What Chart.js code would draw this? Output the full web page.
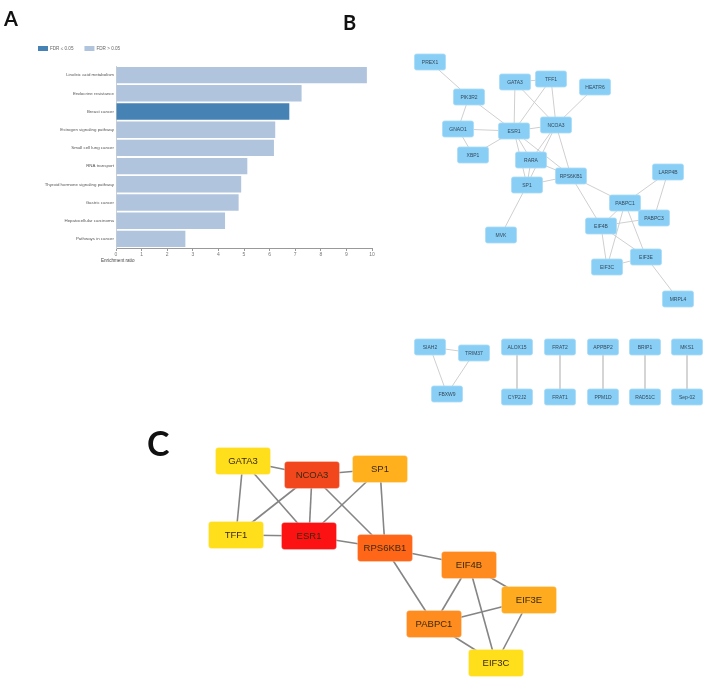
<!DOCTYPE html>
<html>
<head>
<meta charset="utf-8">
<script src="https://cdn.jsdelivr.net/npm/chart.js@4.4.1/dist/chart.umd.min.js"></script>
<style>
  body { margin: 0; background: #fff; }
  #page { position: relative; width: 706px; height: 679px; overflow: hidden; }
  canvas { position: absolute; }
  .tag { position: absolute; font-family: Lato, 'Open Sans', sans-serif; font-weight: bold; color: #111; line-height: 1; }
</style>
</head>
<body>
<div id="page">
  <canvas id="chartA" width="380" height="280" style="left:0;top:0"></canvas>
  <canvas id="chartB" width="326" height="390" style="left:380px;top:30px"></canvas>
  <canvas id="chartC" width="420" height="259" style="left:150px;top:420px"></canvas>
  <div class="tag" style="left:4px;top:8px;font-size:20px">A</div>
  <div class="tag" style="left:343px;top:12px;font-size:20px">B</div>
  <div class="tag" style="left:147px;top:426px;font-size:34px">C</div>
</div>
<script>
// --- panel A: enrichment
const pathways = [
    'Linoleic acid metabolism',
    'Endocrine resistance',
    'Breast cancer',
    'Estrogen signaling pathway',
    'Small cell lung cancer',
    'RNA transport',
    'Thyroid hormone signaling pathway',
    'Gastric cancer',
    'Hepatocellular carcinoma',
    'Pathways in cancer'
];
const enrichment = [9.80, 7.25, 6.77, 6.22, 6.17, 5.13, 4.89, 4.79, 4.26, 2.71];
const fdrOk = [false, false, true, false, false, false, false, false, false, false];
const xTicks = [0, 1, 2, 3, 4, 5, 6, 7, 8, 9, 10];

// --- panel B: full network (layout coords)
const bGenes = ['PREX1', 'PIK3R2', 'GATA3', 'TFF1', 'HEATR6', 'GNAO1', 'ESR1', 'NCOA3', 'XBP1',
    'RARA', 'RPS6KB1', 'SP1', 'MVK', 'LARP4B', 'PABPC1', 'PABPC3', 'EIF4B', 'EIF3E', 'EIF3C', 'MRPL4',
    'SIAH2', 'TRIM37', 'FBXW9', 'ALOX15', 'CYP2J2', 'FRAT2', 'FRAT1', 'APPBP2', 'PPM1D',
    'BRIP1', 'RAD51C', 'MKS1', 'Sep-02'];
const bX = [50, 89, 135, 171, 215, 78, 134, 176, 93, 151, 191, 147, 121, 288, 245, 274, 221, 266, 227, 298,
    50, 94, 67, 137, 137, 180, 180, 223, 223, 265, 265, 307, 307];
const bY = [32, 67, 52, 49, 57, 99, 101, 95, 125, 130, 146, 155, 205, 142, 173, 188, 196, 227, 237, 269,
    317, 323, 364, 317, 367, 317, 367, 317, 367, 317, 367, 317, 367];
const bLinks = [
    ['PREX1', 'PIK3R2'], ['PIK3R2', 'GNAO1'], ['PIK3R2', 'ESR1'], ['GNAO1', 'ESR1'], ['GNAO1', 'XBP1'],
    ['XBP1', 'ESR1'], ['GATA3', 'TFF1'], ['GATA3', 'ESR1'], ['GATA3', 'NCOA3'], ['TFF1', 'ESR1'],
    ['TFF1', 'NCOA3'], ['HEATR6', 'NCOA3'], ['ESR1', 'NCOA3'], ['ESR1', 'RARA'], ['ESR1', 'SP1'],
    ['ESR1', 'RPS6KB1'], ['NCOA3', 'RARA'], ['NCOA3', 'SP1'], ['NCOA3', 'RPS6KB1'], ['RARA', 'SP1'],
    ['RARA', 'RPS6KB1'], ['SP1', 'RPS6KB1'], ['SP1', 'MVK'], ['RPS6KB1', 'PABPC1'], ['RPS6KB1', 'EIF4B'],
    ['LARP4B', 'PABPC1'], ['LARP4B', 'PABPC3'], ['PABPC1', 'EIF4B'], ['PABPC1', 'EIF3C'], ['PABPC1', 'EIF3E'],
    ['EIF4B', 'PABPC3'], ['EIF4B', 'EIF3C'], ['EIF4B', 'EIF3E'], ['EIF3C', 'EIF3E'], ['EIF3E', 'MRPL4'],
    ['SIAH2', 'TRIM37'], ['SIAH2', 'FBXW9'], ['TRIM37', 'FBXW9'], ['ALOX15', 'CYP2J2'], ['FRAT2', 'FRAT1'],
    ['APPBP2', 'PPM1D'], ['BRIP1', 'RAD51C'], ['MKS1', 'Sep-02']
];

// --- panel C: hub genes
const cGenes = ['GATA3', 'NCOA3', 'SP1', 'TFF1', 'ESR1', 'RPS6KB1', 'EIF4B', 'EIF3E', 'PABPC1', 'EIF3C'];
const cX = [93, 162, 230, 86, 159, 235, 319, 379, 284, 346];
const cY = [41, 55, 49, 115, 116, 128, 145, 180, 204, 243];
const cLinks = [
    ['GATA3', 'NCOA3'], ['GATA3', 'TFF1'], ['GATA3', 'ESR1'], ['NCOA3', 'SP1'], ['NCOA3', 'TFF1'],
    ['NCOA3', 'ESR1'], ['NCOA3', 'RPS6KB1'], ['SP1', 'ESR1'], ['SP1', 'RPS6KB1'], ['TFF1', 'ESR1'],
    ['ESR1', 'RPS6KB1'], ['RPS6KB1', 'EIF4B'], ['RPS6KB1', 'PABPC1'], ['EIF4B', 'PABPC1'], ['EIF4B', 'EIF3E'],
    ['EIF4B', 'EIF3C'], ['EIF3E', 'PABPC1'], ['EIF3E', 'EIF3C'], ['PABPC1', 'EIF3C']
];
const cFill = ['#ffdf1c', '#f2461c', '#ffb01c', '#ffdf1c', '#fc1212', '#ff6618', '#ff8a1e', '#ffab20', '#ff8c1e', '#ffdf1c'];

const small = "'Liberation Sans Narrow', 'Arial Narrow', 'Liberation Sans', sans-serif";

// legend + axis title for A, drawn by hand
const legendA = {
    id: 'legendA',
    afterDraw(chart) {
        const ctx = chart.ctx;
        ctx.save();
        ctx.font = '4.6px ' + small;
        ctx.textBaseline = 'middle';
        let x = 38;
        chart.data.datasets.forEach(ds => {
            ctx.fillStyle = ds.backgroundColor;
            ctx.fillRect(x, 46, 10, 5);
            ctx.fillStyle = '#666';
            ctx.fillText(ds.label, x + 12, 48.5);
            x += 12 + ctx.measureText(ds.label).width + 11;
        });
        ctx.fillStyle = '#444';
        ctx.fillText('Enrichment ratio', chart.scales.x.left - 15, 261);
        ctx.restore();
    }
};

new Chart(document.getElementById('chartA'), {
    type: 'bar',
    data: {
        labels: pathways,
        datasets: [{
            label: 'FDR \u2264 0.05',
            data: enrichment.map((v, i) => fdrOk[i] ? v : null),
            backgroundColor: '#4682b4'
        }, {
            label: 'FDR > 0.05',
            data: enrichment.map((v, i) => fdrOk[i] ? null : v),
            backgroundColor: '#b0c4de'
        }]
    },
    options: {
        indexAxis: 'y',
        responsive: false,
        animation: false,
        layout: { padding: { top: 66, right: 8, left: 0, bottom: 0 } },
        datasets: { bar: { categoryPercentage: 1, barPercentage: 0.9 } },
        scales: {
            x: {
                stacked: true,
                min: 0,
                max: 10,
                afterBuildTicks: s => { s.ticks = xTicks.map(v => ({ value: v })); },
                afterFit: s => { s.height = 32; },
                grid: { drawOnChartArea: false, drawTicks: true, tickLength: 3, color: '#999' },
                border: { display: true, color: '#999' },
                ticks: { padding: 1, color: '#777', font: { size: 5, family: small } }
            },
            y: {
                stacked: true,
                afterFit: s => { s.width = 116; },
                grid: { display: false, drawTicks: false },
                border: { display: true, color: '#d0d0d0' },
                ticks: { padding: 2, color: '#555', font: { size: 4.4, family: small } }
            }
        },
        plugins: { legend: { display: false }, tooltip: { enabled: false } }
    },
    plugins: [legendA]
});

// --- networks
function roundBox(ctx, x, y, w, h, r) {
    ctx.beginPath();
    ctx.moveTo(x + r, y);
    ctx.arcTo(x + w, y, x + w, y + h, r);
    ctx.arcTo(x + w, y + h, x, y + h, r);
    ctx.arcTo(x, y + h, x, y, r);
    ctx.arcTo(x, y, x + w, y, r);
    ctx.closePath();
}

function criarRede(id, genes, xs, ys, links, look) {
    const canvas = document.getElementById(id);
    const idx = {};
    genes.forEach((g, i) => idx[g] = i);

    const edgeSets = links.map(([a, b]) => ({
        data: [{ x: xs[idx[a]], y: ys[idx[a]] }, { x: xs[idx[b]], y: ys[idx[b]] }],
        showLine: true,
        borderColor: look.edge,
        borderWidth: look.edgeWidth,
        pointRadius: 0
    }));
    const nodeSet = {
        label: 'genes',
        data: genes.map((g, i) => ({ x: xs[i], y: ys[i] })),
        pointRadius: 0
    };

    const nodeBoxes = {
        id: 'nodeBoxes',
        afterDatasetsDraw(chart) {
            const ctx = chart.ctx;
            const meta = chart.getDatasetMeta(chart.data.datasets.length - 1);
            ctx.save();
            ctx.font = look.font;
            ctx.textAlign = 'center';
            ctx.textBaseline = 'middle';
            meta.data.forEach((pt, i) => {
                const w = look.w, h = look.h;
                roundBox(ctx, pt.x - w / 2, pt.y - h / 2, w, h, look.r);
                ctx.fillStyle = Array.isArray(look.fill) ? look.fill[i] : look.fill;
                ctx.fill();
                ctx.strokeStyle = look.stroke;
                ctx.lineWidth = 0.8;
                ctx.stroke();
                ctx.fillStyle = look.text;
                ctx.fillText(genes[i], pt.x, pt.y + 0.5);
            });
            ctx.restore();
        }
    };

    new Chart(canvas, {
        type: 'scatter',
        data: { datasets: [...edgeSets, nodeSet] },
        options: {
            responsive: false,
            animation: false,
            layout: { padding: 0 },
            scales: {
                x: { display: false, min: 0, max: canvas.width },
                y: { display: false, min: 0, max: canvas.height, reverse: true }
            },
            plugins: { legend: { display: false }, tooltip: { enabled: false } }
        },
        plugins: [nodeBoxes]
    });
}

criarRede('chartB', bGenes, bX, bY, bLinks, {
    edge: '#cfcfcf', edgeWidth: 1,
    w: 31, h: 16, r: 2,
    fill: '#89cff5', stroke: '#a8dcf8',
    text: '#34475a', font: '5px ' + small
});

criarRede('chartC', cGenes, cX, cY, cLinks, {
    edge: '#858585', edgeWidth: 1.6,
    w: 55, h: 27, r: 3,
    fill: cFill, stroke: 'rgba(255,255,255,0.35)',
    text: '#3a2a10', font: "9.5px 'Liberation Sans', Arial, sans-serif"
});
</script>
</body>
</html>
